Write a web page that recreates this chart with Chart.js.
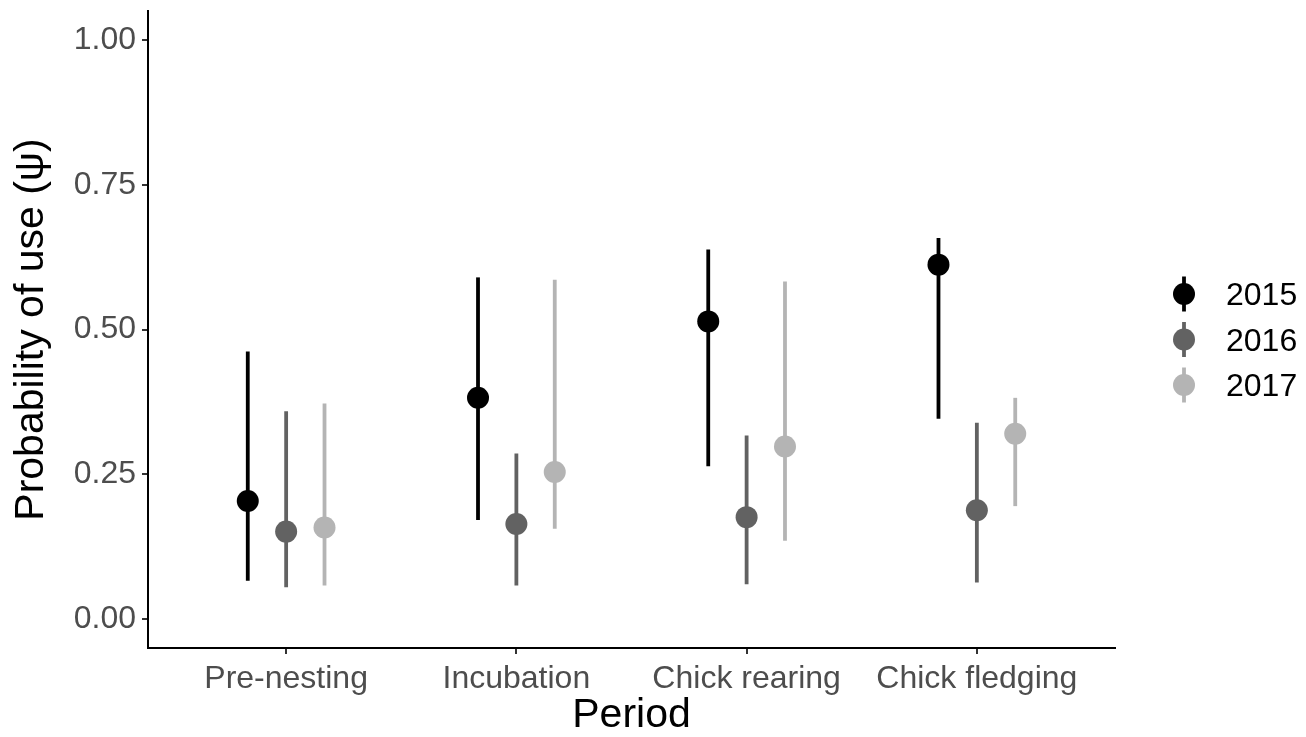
<!DOCTYPE html>
<html>
<head>
<meta charset="utf-8">
<script src="https://cdn.jsdelivr.net/npm/chart.js@4"></script>
<style>
  body { margin: 0; background: #fff; }
  #wrap { width: 1306px; height: 737px; position: relative; }
</style>
</head>
<body>
<div id="wrap"><canvas id="use-chart"></canvas></div>
<script>
// categories / groups
const periods = ['Pre-nesting', 'Incubation', 'Chick rearing', 'Chick fledging'];
const years = ['2015', '2016', '2017'];
const yTicks = [0, 0.25, 0.5, 0.75, 1];

// estimates and intervals, per year
const est2015 = [0.204, 0.382, 0.514, 0.612];
const lo2015  = [0.066, 0.171, 0.264, 0.346];
const hi2015  = [0.462, 0.590, 0.638, 0.658];

const est2016 = [0.151, 0.164, 0.176, 0.188];
const lo2016  = [0.055, 0.058, 0.060, 0.063];
const hi2016  = [0.359, 0.286, 0.317, 0.339];

const est2017 = [0.158, 0.254, 0.298, 0.320];
const lo2017  = [0.058, 0.156, 0.135, 0.195];
const hi2017  = [0.372, 0.586, 0.583, 0.382];

const colors = ['#000000', '#626262', '#b4b4b4'];
const dodge = [-1 / 6, 0, 1 / 6];
const FONT = "'Liberation Sans', Arial, sans-serif";

function makeData(est, lo, hi, k) {
  return est.map(function (v, i) {
    return { x: i + 1 + dodge[k], y: v, lo: lo[i], hi: hi[i] };
  });
}

const series = [
  makeData(est2015, lo2015, hi2015, 0),
  makeData(est2016, lo2016, hi2016, 1),
  makeData(est2017, lo2017, hi2017, 2)
];

////// error bar lines, drawn under the points /////////
const errorBars = {
  id: 'errorBars',
  beforeDatasetsDraw(chart) {
    const ctx = chart.ctx, x = chart.scales.x, y = chart.scales.y;
    chart.data.datasets.forEach(function (ds) {
      ctx.save();
      ctx.strokeStyle = ds.backgroundColor;
      ctx.lineWidth = 3.8;
      ds.data.forEach(function (p) {
        const px = x.getPixelForValue(p.x);
        ctx.beginPath();
        ctx.moveTo(px, y.getPixelForValue(p.lo));
        ctx.lineTo(px, y.getPixelForValue(p.hi));
        ctx.stroke();
      });
      ctx.restore();
    });
  }
};

////// legend on the right (point + line glyph) /////////
const sideLegend = {
  id: 'sideLegend',
  afterDraw(chart) {
    const ctx = chart.ctx;
    const gx = 1184, gy = 294, step = 45.5;
    years.forEach(function (yr, k) {
      const cy = gy + k * step;
      ctx.save();
      ctx.strokeStyle = colors[k];
      ctx.fillStyle = colors[k];
      ctx.lineWidth = 3.8;
      ctx.beginPath();
      ctx.moveTo(gx, cy - 17.5);
      ctx.lineTo(gx, cy + 17.5);
      ctx.stroke();
      ctx.beginPath();
      ctx.arc(gx, cy, 11, 0, Math.PI * 2);
      ctx.fill();
      ctx.fillStyle = '#000';
      ctx.font = '32px ' + FONT;
      ctx.textBaseline = 'middle';
      ctx.textAlign = 'left';
      ctx.fillText(yr, 1226, cy + 2.5);
      ctx.restore();
    });
  }
};

const ctx_use = document.getElementById('use-chart');
new Chart(ctx_use, {
  type: 'line',
  data: {
    datasets: years.map(function (yr, k) {
      return {
        label: yr,
        data: series[k],
        showLine: false,
        backgroundColor: colors[k],
        borderColor: colors[k],
        pointRadius: 11,
        pointHoverRadius: 11,
        pointBorderWidth: 0
      };
    })
  },
  options: {
    responsive: true,
    maintainAspectRatio: false,
    animation: false,
    layout: { padding: { top: 6, right: 191, left: 0, bottom: 0 } },
    plugins: {
      legend: { display: false },
      tooltip: { enabled: false }
    },
    scales: {
      x: {
        type: 'linear',
        min: 0.4,
        max: 4.6,
        afterBuildTicks: function (scale) {
          scale.ticks = periods.map(function (p, i) { return { value: i + 1 }; });
        },
        afterFit: function (scale) { scale.height = 89; },
        ticks: {
          color: '#4d4d4d',
          font: { family: FONT, size: 32, lineHeight: 1.2 },
          padding: 6,
          maxRotation: 0,
          autoSkip: false,
          callback: function (v) { return periods[v - 1]; }
        },
        grid: { drawOnChartArea: false, drawTicks: true, tickLength: 6, color: '#333333', lineWidth: 2 },
        border: { color: '#000000', width: 2 },
        title: {
          display: true,
          text: 'Period',
          color: '#000000',
          font: { family: FONT, size: 41, lineHeight: 1 },
          padding: { top: 0, bottom: 1 }
        }
      },
      y: {
        min: -0.05,
        max: 1.05,
        afterBuildTicks: function (scale) {
          scale.ticks = yTicks.map(function (v) { return { value: v }; });
        },
        afterFit: function (scale) { scale.width = 148; },
        ticks: {
          color: '#4d4d4d',
          font: { family: FONT, size: 32, lineHeight: 0.3 },
          padding: 6,
          callback: function (v) { return v.toFixed(2); }
        },
        grid: { drawOnChartArea: false, drawTicks: true, tickLength: 6, color: '#333333', lineWidth: 2 },
        border: { color: '#000000', width: 2 },
        title: {
          display: true,
          text: 'Probability of use (ψ)',
          color: '#000000',
          font: { family: FONT, size: 41, lineHeight: 1 },
          padding: { top: 11, bottom: 0 }
        }
      }
    }
  },
  plugins: [errorBars, sideLegend]
});
</script>
</body>
</html>
